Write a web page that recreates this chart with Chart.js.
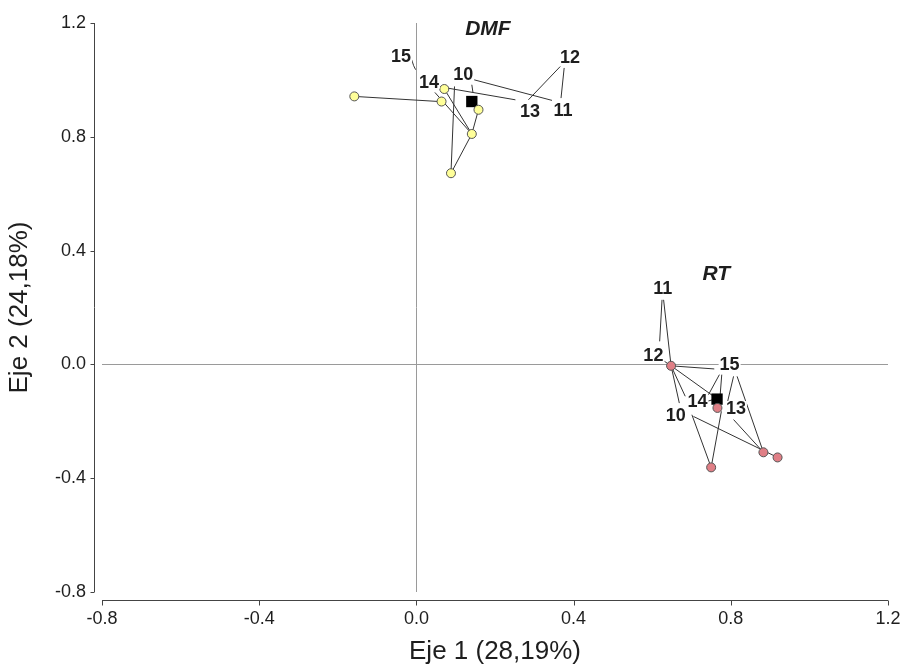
<!DOCTYPE html>
<html lang="es">
<head>
<meta charset="utf-8">
<title>Eje 1 vs Eje 2</title>
<script src="https://cdn.jsdelivr.net/npm/chart.js@4.4.0/dist/chart.umd.min.js"></script>
<style>
  html, body { margin: 0; padding: 0; background: #fff; }
  #grafico { display: block; }
</style>
</head>
<body>
<canvas id="grafico" width="905" height="668"></canvas>
<script>
// valores de ticks (ambos ejes)
const marcas = [-0.8, -0.4, 0, 0.4, 0.8, 1.2];

// DMF: puntos por año y centroide
const dmfX = [-0.158, 0.071, 0.064, 0.158, 0.141, 0.088];
const dmfY = [0.942, 0.968, 0.924, 0.895, 0.810, 0.672];
const dmfCentro = [0.141, 0.924];

// RT: puntos por año y centroide
const rtX = [0.648, 0.766, 0.750, 0.883, 0.919];
const rtY = [-0.005, -0.153, -0.362, -0.309, -0.327];
const rtCentro = [0.765, -0.122];

// etiquetas de años (10..15) y donde van
const anios = ['10', '11', '12', '13', '14', '15'];
const dmfEtiqX = [0.119, 0.373, 0.391, 0.289, 0.032, -0.039];
const dmfEtiqY = [1.019, 0.895, 1.082, 0.892, 0.994, 1.085];
const rtEtiqX = [0.660, 0.627, 0.603, 0.813, 0.715, 0.797];
const rtEtiqY = [-0.177, 0.269, 0.034, -0.153, -0.130, 0.002];

// nombres de grupo
const grupos = ['DMF', 'RT'];
const gruposX = [0.182, 0.763];
const gruposY = [1.180, 0.319];

// lineas guia [x1, y1, x2, y2]
const dmfGuias = [
  [-0.158, 0.942, 0.058, 0.924],
  [-0.012, 1.071, -0.007, 1.050],
  [-0.007, 1.050, -0.002, 1.036],
  [0.055, 0.977, 0.252, 0.930],
  [0.097, 0.977, 0.088, 0.672],
  [0.071, 0.968, 0.141, 0.810],
  [0.047, 0.956, 0.141, 0.810],
  [0.141, 0.810, 0.158, 0.895],
  [0.141, 0.810, 0.088, 0.672],
  [0.141, 0.983, 0.144, 0.955],
  [0.145, 1.001, 0.345, 0.928],
  [0.366, 1.047, 0.285, 0.930],
  [0.376, 1.042, 0.368, 0.936]
];
const rtGuias = [
  [0.648, -0.005, 0.758, -0.016],
  [0.648, -0.005, 0.756, -0.112],
  [0.648, -0.005, 0.669, -0.136],
  [0.648, -0.005, 0.684, -0.112],
  [0.771, -0.036, 0.743, -0.107],
  [0.777, -0.036, 0.773, -0.106],
  [0.807, -0.042, 0.792, -0.130],
  [0.816, -0.042, 0.883, -0.309],
  [0.776, -0.165, 0.750, -0.362],
  [0.701, -0.177, 0.750, -0.362],
  [0.705, -0.183, 0.919, -0.327],
  [0.807, -0.194, 0.883, -0.309],
  [0.625, 0.227, 0.619, 0.081],
  [0.629, 0.227, 0.648, -0.005],
  [0.631, 0.011, 0.648, -0.005],
  [0.739, -0.130, 0.755, -0.124]
];

const FUENTE = '"Liberation Sans", Arial, sans-serif';
const TEXTO = '#1e1e1e';

function puntos(xs, ys) {
  return xs.map((x, i) => ({ x, y: ys[i] }));
}

// segmentos separados por huecos (spanGaps: false)
function segmentos(guias) {
  const out = [];
  guias.forEach(g => {
    out.push({ x: g[0], y: g[1] }, { x: g[2], y: g[3] }, { x: null, y: null });
  });
  return out;
}

/**
 * ejes desplazados (estilo SigmaPlot)
 */
const ejesSeparados = {
  id: 'ejesSeparados',
  afterDraw(chart) {
    const { ctx, chartArea, scales: { x, y } } = chart;
    const ax = Math.round(chartArea.left - 8) + 0.5;
    const ay = Math.round(chartArea.bottom + 8) + 0.5;
    ctx.save();
    ctx.strokeStyle = '#444';
    ctx.lineWidth = 1;
    ctx.beginPath();
    ctx.moveTo(ax, y.getPixelForValue(marcas[marcas.length - 1]));
    ctx.lineTo(ax, y.getPixelForValue(marcas[0]));
    marcas.forEach(v => {
      const py = Math.round(y.getPixelForValue(v)) + 0.5;
      ctx.moveTo(ax - 4, py);
      ctx.lineTo(ax, py);
    });
    ctx.moveTo(x.getPixelForValue(marcas[0]), ay);
    ctx.lineTo(x.getPixelForValue(marcas[marcas.length - 1]), ay);
    marcas.forEach(v => {
      const px = Math.round(x.getPixelForValue(v)) + 0.5;
      ctx.moveTo(px, ay);
      ctx.lineTo(px, ay + 5);
    });
    ctx.stroke();
    ctx.restore();
  }
};

/**
 * etiquetas de años y grupos
 */
const etiquetas = {
  id: 'etiquetas',
  afterDatasetsDraw(chart) {
    const { ctx, scales: { x, y } } = chart;
    ctx.save();
    ctx.textAlign = 'center';
    ctx.textBaseline = 'middle';

    const escribir = (txt, vx, vy, font) => {
      const px = x.getPixelForValue(vx);
      const py = y.getPixelForValue(vy);
      ctx.font = font;
      const w = ctx.measureText(txt).width;
      ctx.fillStyle = '#fff';
      ctx.fillRect(px - w / 2 - 1, py - 7, w + 2, 14);
      ctx.fillStyle = TEXTO;
      ctx.fillText(txt, px, py + 1);
    };

    anios.forEach((a, i) => {
      escribir(a, dmfEtiqX[i], dmfEtiqY[i], 'bold 18px ' + FUENTE);
      escribir(a, rtEtiqX[i], rtEtiqY[i], 'bold 18px ' + FUENTE);
    });
    grupos.forEach((g, i) => {
      escribir(g, gruposX[i], gruposY[i], 'italic bold 21px ' + FUENTE);
    });
    ctx.restore();
  }
};

const lineaCero = c => (c.tick && c.tick.value === 0 ? '#9a9a9a' : 'rgba(0,0,0,0)');

new Chart(document.getElementById('grafico'), {
  type: 'scatter',
  data: {
    datasets: [
      {
        label: 'guias DMF',
        data: segmentos(dmfGuias),
        showLine: true, spanGaps: false,
        borderColor: '#333', borderWidth: 1, pointRadius: 0, order: 3
      },
      {
        label: 'guias RT',
        data: segmentos(rtGuias),
        showLine: true, spanGaps: false,
        borderColor: '#333', borderWidth: 1, pointRadius: 0, order: 3
      },
      {
        label: 'centroides',
        data: [{ x: dmfCentro[0], y: dmfCentro[1] }, { x: rtCentro[0], y: rtCentro[1] }],
        pointStyle: 'rect', pointRadius: 8,
        backgroundColor: '#000', borderColor: '#000', borderWidth: 0, order: 2
      },
      {
        label: 'DMF',
        data: puntos(dmfX, dmfY),
        pointRadius: 4.5, pointStyle: 'circle',
        backgroundColor: '#ffff99', borderColor: '#555', borderWidth: 1, order: 1
      },
      {
        label: 'RT',
        data: puntos(rtX, rtY),
        pointRadius: 4.5, pointStyle: 'circle',
        backgroundColor: '#e07f86', borderColor: '#555', borderWidth: 1, order: 1
      }
    ]
  },
  options: {
    responsive: false,
    animation: false,
    layout: { padding: { top: 23, right: 17, left: 0, bottom: 0 } },
    plugins: {
      legend: { display: false },
      tooltip: { enabled: false }
    },
    scales: {
      x: {
        type: 'linear',
        min: -0.8, max: 1.2,
        afterBuildTicks: s => { s.ticks = marcas.map(v => ({ value: v })); },
        afterFit: s => { s.height = 76; s.paddingLeft = 0; s.paddingRight = 0; },
        border: { display: false },
        grid: { color: lineaCero, lineWidth: 1, drawTicks: false },
        ticks: {
          padding: 16,
          color: TEXTO,
          font: { family: FUENTE, size: 18 },
          callback: v => v.toFixed(1)
        },
        title: {
          display: true,
          text: 'Eje 1 (28,19%)',
          color: TEXTO,
          font: { family: FUENTE, size: 26 },
          padding: { top: 0, bottom: 1 }
        }
      },
      y: {
        type: 'linear',
        min: -0.8, max: 1.2,
        afterBuildTicks: s => { s.ticks = marcas.map(v => ({ value: v })); },
        afterFit: s => { s.width = 102; s.paddingTop = 0; s.paddingBottom = 0; },
        border: { display: false },
        grid: { color: lineaCero, lineWidth: 1, drawTicks: false },
        ticks: {
          padding: 16,
          color: TEXTO,
          font: { family: FUENTE, size: 18 },
          callback: v => v.toFixed(1)
        },
        title: {
          display: true,
          text: 'Eje 2 (24,18%)',
          color: TEXTO,
          font: { family: FUENTE, size: 26 },
          padding: { top: 4, bottom: 0 }
        }
      }
    }
  },
  plugins: [ejesSeparados, etiquetas]
});
</script>
</body>
</html>
